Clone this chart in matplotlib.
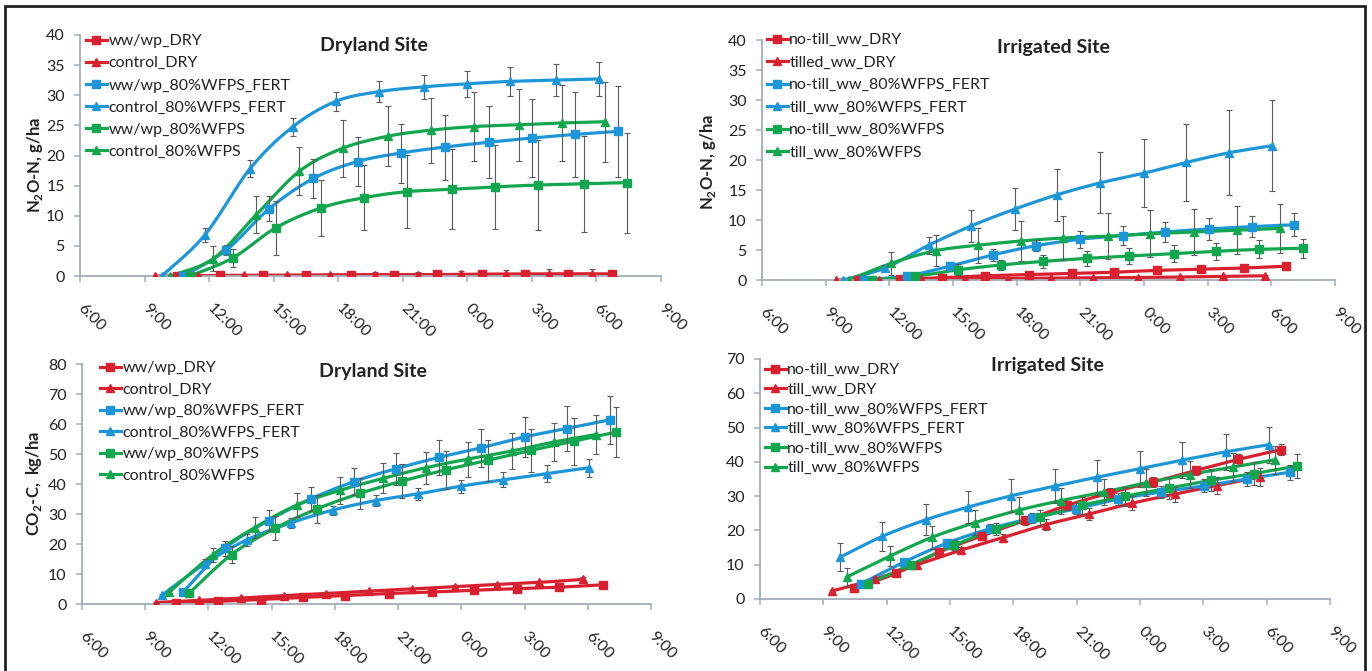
import numpy as np
import matplotlib
matplotlib.use('Agg')
import matplotlib.pyplot as plt

plt.rcParams['font.family'] = ['Lato', 'DejaVu Sans']
plt.rcParams['mathtext.fontset'] = 'custom'
plt.rcParams['mathtext.rm'] = 'Lato'
plt.rcParams['mathtext.bf'] = 'Lato:bold'

W, H = 1372, 671
RED, BLUE, GREEN = '#D9202F', '#1D96D8', '#12A64E'
AXC = '#A3AEBA'

HOURS = list(range(6, 34, 3))
HOUR_LABELS = ['6:00', '9:00', '12:00', '15:00', '18:00', '21:00',
               '0:00', '3:00', '6:00', '9:00']

# ── Panel A: N2O, dryland ────────────────────────────────────────────────────
a_labels = ['ww/wp_DRY', 'control_DRY', 'ww/wp_80%WFPS_FERT',
            'control_80%WFPS_FERT', 'ww/wp_80%WFPS', 'control_80%WFPS']
a_x = [
    [10.5, 12.5, 14.5, 16.5, 18.6, 20.6, 22.6, 24.7, 26.7, 28.7, 30.7],
    [9.5, 11.5, 13.6, 15.6, 17.6, 19.7, 21.7, 23.7, 25.8, 27.8, 29.8],
    [10.8, 12.8, 14.8, 16.85, 18.9, 20.9, 22.95, 25.0, 27.0, 29.0, 31.0],
    [9.8, 11.8, 13.9, 15.9, 17.9, 19.9, 22.0, 24.0, 26.0, 28.1, 30.1],
    [11.1, 13.1, 15.1, 17.2, 19.2, 21.2, 23.3, 25.3, 27.3, 29.4, 31.4],
    [10.2, 12.2, 14.2, 16.2, 18.2, 20.3, 22.3, 24.3, 26.4, 28.4, 30.4],
]
a_y = [
    [0, 0.1, 0.1, 0.15, 0.2, 0.2, 0.25, 0.3, 0.3, 0.35, 0.35],
    [0, 0.05, 0.1, 0.1, 0.15, 0.2, 0.2, 0.25, 0.3, 0.3, 0.3],
    [0, 4.3, 11.2, 16.2, 19.0, 20.4, 21.4, 22.2, 22.9, 23.5, 24.0],
    [0, 6.8, 17.8, 24.8, 29.0, 30.6, 31.4, 31.9, 32.3, 32.5, 32.7],
    [0, 3.0, 8.0, 11.3, 13.0, 14.0, 14.4, 14.8, 15.1, 15.3, 15.5],
    [0, 2.9, 10.2, 17.4, 21.2, 23.2, 24.2, 24.8, 25.1, 25.4, 25.6],
]
a_err = [
    [0, 0.1, 0.2, 0.2, 0.3, 0.3, 0.4, 0.5, 0.6, 0.6, 0.7],
    [0, 0.1, 0.2, 0.3, 0.4, 0.5, 0.5, 0.6, 0.7, 0.8, 0.8],
    [0, 0.8, 2.1, 3.2, 4.0, 4.9, 5.4, 6.0, 6.5, 7.0, 7.5],
    [0, 1.2, 1.4, 1.5, 1.6, 1.8, 2.0, 2.2, 2.4, 2.7, 2.9],
    [0, 1.5, 4.5, 4.7, 5.4, 6.1, 6.6, 7.0, 7.5, 8.0, 8.3],
    [0, 2.1, 3.1, 4.0, 4.7, 5.0, 5.4, 5.7, 6.0, 6.3, 6.6],
]

# ── Panel B: N2O, irrigated ──────────────────────────────────────────────────
b_labels = ['no-till_ww_DRY', 'tilled_ww_DRY', 'no-till_ww_80%WFPS_FERT',
            'till_ww_80%WFPS_FERT', 'no-till_ww_80%WFPS', 'till_ww_80%WFPS']
b_x = [
    [10.5, 12.5, 14.5, 16.5, 18.6, 20.6, 22.6, 24.6, 26.7, 28.7, 30.7],
    [9.5, 11.5, 13.5, 15.55, 17.6, 19.6, 21.6, 23.7, 25.7, 27.7, 29.7],
    [10.8, 12.85, 14.85, 16.9, 18.9, 21.0, 23.0, 25.0, 27.05, 29.1, 31.05],
    [9.8, 11.8, 13.85, 15.85, 17.9, 19.9, 21.95, 24.0, 26.0, 28.0, 30.05],
    [11.2, 13.2, 15.25, 17.25, 19.25, 21.3, 23.3, 25.4, 27.4, 29.4, 31.5],
    [10.1, 12.1, 14.2, 16.2, 18.2, 20.2, 22.3, 24.3, 26.35, 28.4, 30.4],
]
b_y = [
    [0, 0.1, 0.4, 0.7, 0.9, 1.1, 1.3, 1.6, 1.8, 2.0, 2.3],
    [0, 0.05, 0.1, 0.2, 0.25, 0.3, 0.35, 0.4, 0.5, 0.6, 0.7],
    [0, 0.7, 2.3, 4.2, 5.7, 6.8, 7.4, 8.0, 8.5, 8.9, 9.2],
    [0, 2.0, 5.8, 9.0, 11.8, 14.2, 16.2, 17.8, 19.6, 21.2, 22.4],
    [0, 0.6, 1.7, 2.5, 3.1, 3.6, 4.0, 4.4, 4.8, 5.1, 5.3],
    [0, 2.8, 4.9, 5.8, 6.5, 7.0, 7.3, 7.7, 8.0, 8.3, 8.6],
]
b_err = [
    [0, 0.05, 0.1, 0.1, 0.15, 0.2, 0.2, 0.25, 0.3, 0.3, 0.3],
    [0, 0.05, 0.05, 0.1, 0.1, 0.1, 0.15, 0.15, 0.2, 0.2, 0.2],
    [0, 0.3, 0.6, 1.0, 0.9, 1.4, 1.6, 1.7, 1.8, 1.8, 1.9],
    [0, 0.5, 1.4, 2.7, 3.5, 4.3, 5.1, 5.7, 6.4, 7.1, 7.6],
    [0, 0.3, 0.9, 0.9, 1.1, 1.2, 1.3, 1.4, 1.4, 1.5, 1.6],
    [0, 1.9, 2.6, 2.9, 3.3, 3.6, 3.8, 3.9, 3.9, 4.0, 4.1],
]

# ── Panel C: CO2, dryland ────────────────────────────────────────────────────
c_labels = a_labels
c_x = [
    [10.45, 12.45, 14.5, 16.5, 18.5, 20.55, 22.6, 24.6, 26.65, 28.65, 30.7],
    [9.5, 11.55, 13.55, 15.6, 17.6, 19.6, 21.65, 23.7, 25.7, 27.7, 29.75],
    [10.8, 12.8, 14.85, 16.85, 18.9, 20.9, 22.95, 24.95, 27.0, 29.0, 31.05],
    [9.8, 11.85, 13.85, 15.9, 17.9, 19.95, 21.95, 24.0, 26.0, 28.05, 30.05],
    [11.1, 13.1, 15.15, 17.15, 19.2, 21.2, 23.25, 25.25, 27.3, 29.35, 31.35],
    [10.15, 12.2, 14.2, 16.2, 18.25, 20.3, 22.3, 24.3, 26.4, 28.4, 30.4],
]
c_y = [
    [0.5, 0.9, 1.5, 2.2, 2.8, 3.5, 4.0, 4.6, 5.1, 5.6, 6.4],
    [0.5, 1.2, 2.0, 2.8, 3.5, 4.3, 5.0, 5.8, 6.5, 7.2, 8.2],
    [4.0, 18.6, 27.8, 35.0, 40.8, 45.1, 48.9, 52.1, 55.7, 58.5, 61.4],
    [3.0, 13.5, 21.5, 27.0, 31.3, 34.5, 36.7, 39.3, 41.4, 43.5, 45.4],
    [3.7, 16.5, 25.2, 31.7, 36.9, 41.0, 44.7, 47.9, 51.2, 54.3, 57.3],
    [4.0, 16.4, 25.5, 33.0, 37.9, 41.9, 45.4, 48.3, 51.0, 54.0, 56.5],
]
c_err = [
    [0.2, 0.2, 0.3, 0.3, 0.3, 0.3, 0.4, 0.4, 0.4, 0.5, 0.5],
    [0.2, 0.3, 0.3, 0.4, 0.4, 0.5, 0.5, 0.5, 0.6, 0.6, 0.7],
    [0.5, 2.5, 3.5, 4.0, 4.5, 5.3, 5.8, 6.3, 6.8, 7.5, 8.0],
    [0.3, 1.5, 2.0, 1.7, 1.5, 1.7, 2.0, 2.2, 2.5, 2.7, 2.9],
    [0.5, 2.8, 4.0, 4.7, 5.2, 5.8, 6.3, 6.8, 7.3, 7.8, 8.3],
    [0.3, 2.3, 3.5, 4.0, 4.5, 5.0, 5.3, 5.8, 6.0, 6.3, 6.6],
]

# ── Panel D: CO2, irrigated ──────────────────────────────────────────────────
d_labels = ['no-till_ww_DRY', 'till_ww_DRY', 'no-till_ww_80%WFPS_FERT',
            'till_ww_80%WFPS_FERT', 'no-till_ww_80%WFPS', 'till_ww_80%WFPS']
d_x = [
    [10.45, 12.45, 14.5, 16.5, 18.55, 20.55, 22.6, 24.6, 26.65, 28.65, 30.7],
    [9.4, 11.45, 13.45, 15.5, 17.5, 19.55, 21.6, 23.6, 25.65, 27.65, 29.7],
    [10.8, 12.8, 14.85, 16.9, 18.9, 20.95, 22.95, 25.0, 27.05, 29.05, 31.1],
    [9.8, 11.8, 13.85, 15.85, 17.9, 19.95, 21.95, 24.0, 26.0, 28.05, 30.1],
    [11.1, 13.15, 15.2, 17.2, 19.25, 21.25, 23.3, 25.35, 27.35, 29.4, 31.45],
    [10.1, 12.15, 14.15, 16.2, 18.25, 20.25, 22.3, 24.3, 26.35, 28.4, 30.4],
]
d_y = [
    [3.1, 7.5, 13.7, 18.4, 22.9, 27.3, 31.0, 34.1, 37.5, 40.7, 43.6],
    [2.3, 5.8, 10.0, 14.2, 17.9, 21.7, 24.8, 27.9, 30.6, 33.1, 35.6],
    [4.5, 10.7, 16.3, 20.5, 23.6, 26.3, 29.1, 31.2, 33.0, 35.0, 37.0],
    [12.2, 18.3, 23.1, 26.8, 30.1, 32.9, 35.5, 38.0, 40.5, 42.9, 45.0],
    [4.3, 10.0, 15.7, 20.5, 23.9, 27.3, 30.0, 32.3, 34.6, 36.6, 38.8],
    [6.4, 12.5, 18.0, 22.3, 25.9, 28.7, 31.2, 33.9, 36.3, 38.5, 40.6],
]
d_err = [
    [0.5, 0.8, 1.0, 1.2, 1.2, 1.3, 1.3, 1.4, 1.4, 1.5, 1.5],
    [0.3, 0.6, 0.8, 1.0, 1.2, 1.5, 1.8, 2.0, 2.2, 2.5, 2.5],
    [0.8, 1.0, 1.2, 1.3, 1.5, 1.6, 1.7, 1.8, 1.9, 2.0, 2.2],
    [4.0, 4.3, 4.5, 4.7, 4.8, 5.0, 5.1, 5.2, 5.2, 5.2, 5.2],
    [0.8, 1.2, 1.5, 1.8, 2.2, 2.5, 2.8, 3.0, 3.2, 3.4, 3.6],
    [2.5, 3.0, 3.3, 3.6, 3.8, 3.8, 3.9, 4.0, 4.0, 4.0, 4.0],
]

STYLES = [(RED, 's'), (RED, '^'), (BLUE, 's'), (BLUE, '^'), (GREEN, 's'), (GREEN, '^')]
FS = 11.5


def smooth(x, y, n=16):
    # Catmull-Rom curve through the points (like Excel's smoothed line)
    pts = np.column_stack([x, y]).astype(float)
    P = np.vstack([pts[0], pts, pts[-1]])
    t = np.linspace(0, 1, n, endpoint=False)[:, None]
    segs = []
    for i in range(1, len(P) - 2):
        p0, p1, p2, p3 = P[i - 1], P[i], P[i + 1], P[i + 2]
        segs.append(0.5 * (2 * p1 + (-p0 + p2) * t
                           + (2 * p0 - 5 * p1 + 4 * p2 - p3) * t ** 2
                           + (-p0 + 3 * p1 - 3 * p2 + p3) * t ** 3))
    segs.append(pts[-1:])
    s = np.vstack(segs)
    return s[:, 0], s[:, 1]


def px_axes(fig, left, top, right, bottom):
    return fig.add_axes([left / W, 1 - bottom / H, (right - left) / W, (bottom - top) / H])


def draw_panel(fig, box, xs, ys, errs, labels, ymax, ystep, title, title_xy,
               ylabel, ylabel_xy, leg_xy, leg_spacing):
    ax = px_axes(fig, *box)
    for x, y, e, lab, (col, mk) in zip(xs, ys, errs, labels, STYLES):
        ms = 5.5 if mk == 's' else 6
        sx, sy = smooth(x, y)
        ax.plot(sx, sy, color=col, lw=2.3, zorder=2, solid_capstyle='round')
        x_, y_, e_ = np.array(x), np.array(y), np.array(e)
        m = e_ > 0
        ax.errorbar(x_[m], y_[m], yerr=e_[m], fmt='none', ecolor='#5A5A5A',
                    elinewidth=0.8, capsize=2.2, capthick=0.8, zorder=3)
        ax.plot(x, y, ls='none', marker=mk, color=col, markersize=ms, zorder=4)
        ax.plot([], [], color=col, lw=2.3, marker=mk, markersize=ms, label=lab)

    ax.set_xlim(6, 33)
    ax.set_ylim(0, ymax)
    ax.set_xticks(HOURS)
    ax.set_xticklabels(HOUR_LABELS, rotation=-45, ha='left', va='center',
                       rotation_mode='anchor')
    ax.set_yticks(np.arange(0, ymax + 1, ystep))
    ax.tick_params(axis='x', length=4, width=1.1, color=AXC, pad=18,
                   labelsize=FS, labelcolor='#222222')
    ax.tick_params(axis='y', length=4, width=1.1, color=AXC, pad=7,
                   labelsize=FS, labelcolor='#222222')
    ax.spines[['top', 'right']].set_visible(False)
    for s in ('left', 'bottom'):
        ax.spines[s].set_color(AXC)
        ax.spines[s].set_linewidth(1.3)
    ax.patch.set_alpha(0)

    fig.text(title_xy[0] / W, 1 - title_xy[1] / H, title, ha='center', va='center',
             fontsize=14, fontweight='bold', color='#222222')
    if ylabel:
        fig.text(ylabel_xy[0] / W, 1 - ylabel_xy[1] / H, ylabel, rotation=90,
                 ha='center', va='center', fontsize=12, fontweight='bold',
                 color='#222222')
    leg = ax.legend(loc='upper left', bbox_to_anchor=(leg_xy[0] / W, 1 - leg_xy[1] / H),
                    bbox_transform=fig.transFigure, frameon=False, fontsize=FS,
                    handlelength=1.3, handletextpad=0.1, borderpad=0,
                    borderaxespad=0, labelspacing=leg_spacing)
    for t in leg.get_texts():
        t.set_color('#222222')
    return ax


fig = plt.figure(figsize=(W / 100, H / 100), dpi=100)

draw_panel(fig, (80, 35, 661, 276), a_x, a_y, a_err, a_labels, 40, 5,
           'Dryland Site', (374, 45), r'N$_\mathbf{2}$O-N, g/ha', (35, 165),
           (86, 34), 0.5)
draw_panel(fig, (762, 40, 1335, 280), b_x, b_y, b_err, b_labels, 40, 5,
           'Irrigated Site', (1053, 48), r'N$_\mathbf{2}$O-N, g/ha', (708, 162),
           (767, 33), 0.52)
draw_panel(fig, (82, 364, 651, 604), c_x, c_y, c_err, c_labels, 80, 10,
           'Dryland Site', (373, 372), r'CO$_\mathbf{2}$-C,  kg/ha', (34, 483),
           (100, 361), 0.46)
draw_panel(fig, (760, 359, 1330, 599), d_x, d_y, d_err, d_labels, 70, 10,
           'Irrigated Site', (1047, 366), None, None,
           (765, 363), 0.34)

# outer frame (open at the bottom, as in the source figure)
frame = plt.Rectangle((5 / W, -0.05), 1360 / W, 1.05 - 6 / H, transform=fig.transFigure,
                      fill=False, lw=2.0, ec='#222222')
fig.patches.append(frame)

fig.savefig('out.png', dpi=100)
